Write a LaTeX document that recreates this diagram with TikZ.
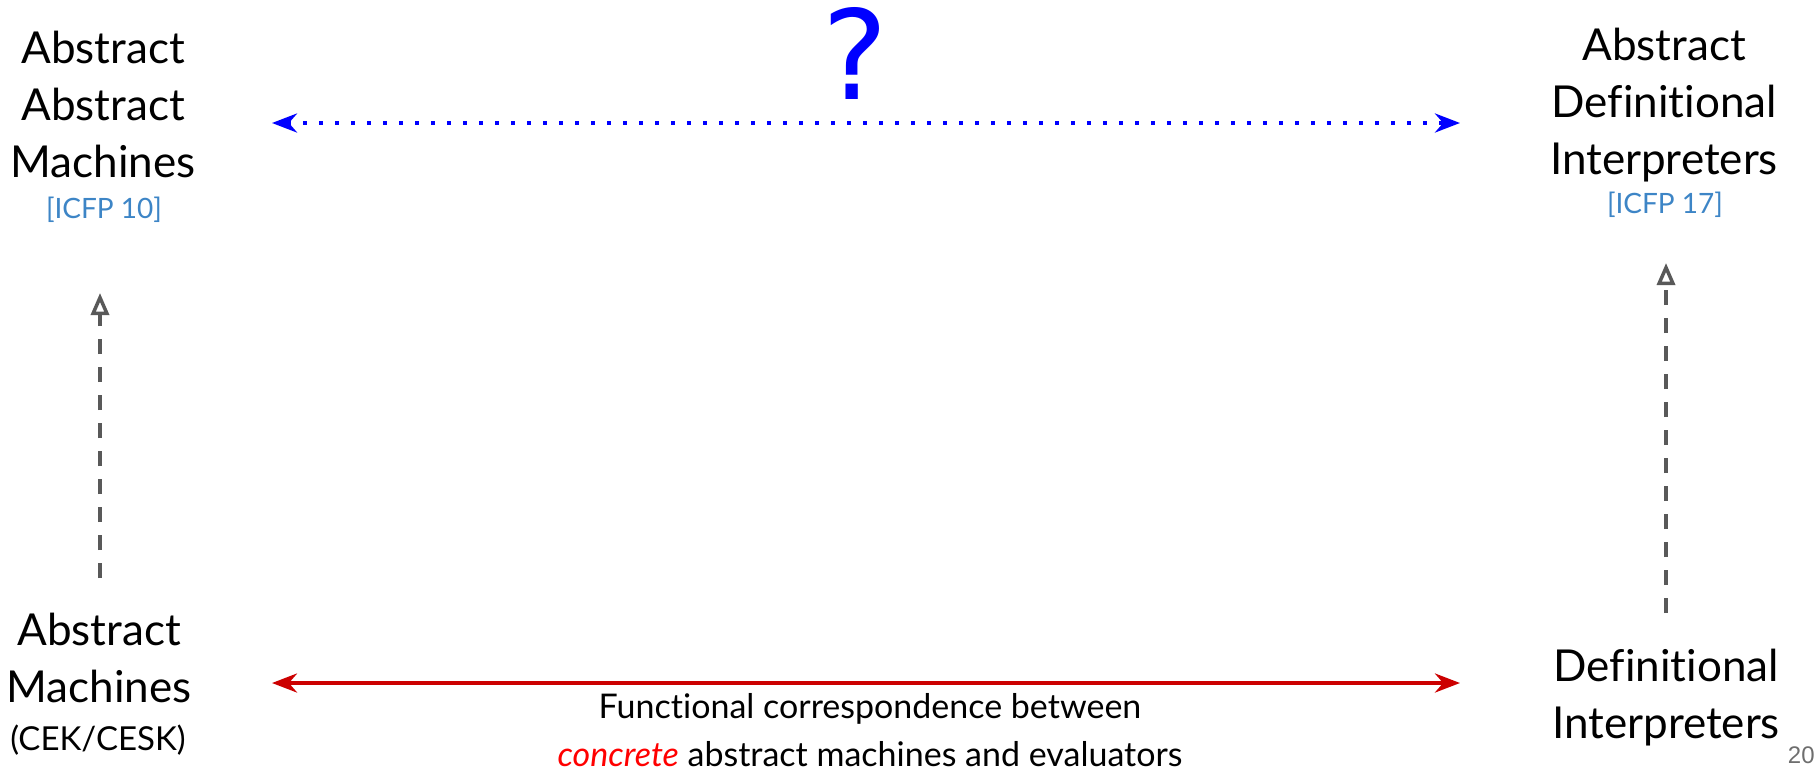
\documentclass[tikz,border=0pt]{standalone}
\usepackage{fontspec}
\setmainfont{Lato}[Ligatures=NoCommon]
\newfontfamily\qmono{DejaVu Sans Mono}
\newfontfamily\pgnum{Liberation Sans}
\usetikzlibrary{arrows.meta}
\definecolor{qblue}{RGB}{0,0,255}
\definecolor{refblue}{RGB}{61,133,198}
\definecolor{qred}{RGB}{204,0,0}
\definecolor{concred}{RGB}{255,0,0}
\definecolor{qgray}{RGB}{89,89,89}
\definecolor{pggray}{RGB}{110,110,110}
\tikzset{
  bigtxt/.style={font=\fontsize{22}{28.5}\selectfont, align=center, anchor=base, inner sep=0pt},
  reftxt/.style={font=\fontsize{14}{17}\selectfont, text=refblue, anchor=base, inner sep=0pt},
  midtxt/.style={font=\fontsize{16.5}{24}\selectfont, align=center, anchor=base, inner sep=0pt},
  captxt/.style={font=\fontsize{17}{23.8}\selectfont, align=center, anchor=base, inner sep=0pt},
  qdots/.style={draw=qblue, line width=2pt, dash pattern=on 2pt off 6pt,
    {Stealth[length=12.5pt,width=9.5pt]}-{Stealth[length=12.5pt,width=9.5pt]}},
  redlink/.style={draw=qred, line width=2pt,
    {Stealth[length=12.5pt,width=9.5pt]}-{Stealth[length=12.5pt,width=9.5pt]}},
  grayup/.style={draw=qgray, line width=1.75pt, dash pattern=on 7.5pt off 6.5pt,
    -{Triangle[open,length=11pt,width=9pt,line width=1.75pt]}},
}
\begin{document}
\begin{tikzpicture}[x=0.5pt,y=-0.5pt]
\useasboundingbox (0,0) rectangle (1818,772);
% labels (anchor = baseline of the last line)
\node[bigtxt] (aam) at (103,177) {Abstract\\Abstract\\Machines};
\node[reftxt] (aamref) at (104,218) {[ICFP 10]};
\node[bigtxt] (adi) at (1664,174) {Abstract\\Definitional\\Interpreters};
\node[reftxt] (adiref) at (1665,213) {[ICFP 17]};
\node[bigtxt] (am) at (99,702) {Abstract\\Machines};
\node[midtxt] (cek) at (98,750) {(CEK/CESK)};
\node[bigtxt] (di) at (1666,738) {Definitional\\Interpreters};
\node[captxt] (cap) at (870,766) {Functional correspondence between\\{\color{concred}\itshape concrete} abstract machines and evaluators};
\node[font=\qmono\fontsize{62}{62}\selectfont, text=qblue, anchor=base, inner sep=0pt] (q) at (854,99) {?};
\node[font=\pgnum\fontsize{12}{12}\selectfont, text=pggray, anchor=base east, inner sep=0pt] (pg) at (1815,763) {20};
% connector end points
\coordinate (tl) at (272,123);
\coordinate (tr) at (1460,123);
\coordinate (bl) at (272,683);
\coordinate (br) at (1460,683);
\coordinate (lb) at (100,578);
\coordinate (lt) at (100,293);
\coordinate (rb) at (1666,613);
\coordinate (rt) at (1666,263);
% connectors
\draw[qdots] (tl) -- (tr);
\draw[redlink] (bl) -- (br);
\draw[grayup] (lb) -- (lt);
\draw[grayup] (rb) -- (rt);
\end{tikzpicture}
\end{document}
